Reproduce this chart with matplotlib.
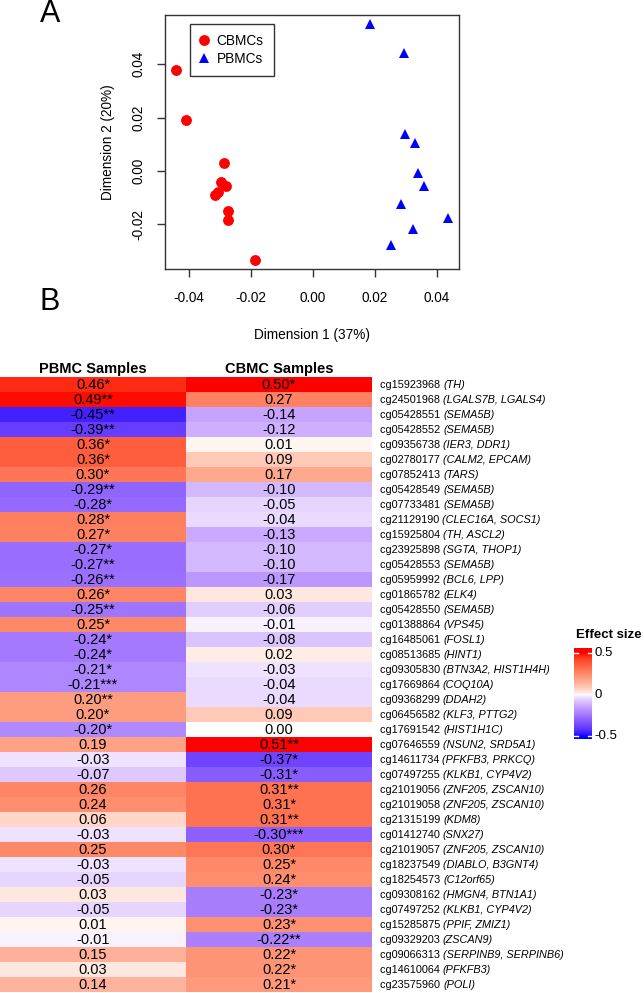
import numpy as np
import matplotlib
matplotlib.use("Agg")
import matplotlib.pyplot as plt
from matplotlib.colors import ListedColormap, FuncNorm

plt.rcParams['font.family'] = ['Liberation Sans', 'DejaVu Sans']

# ---- panel A: MDS coordinates ----
cbmc_x = [-0.0443, -0.0409, -0.0289, -0.0296, -0.0281, -0.0306, -0.0316, -0.0275, -0.0275, -0.0188]
cbmc_y = [0.0380, 0.0190, 0.0031, -0.0041, -0.0055, -0.0077, -0.0091, -0.0150, -0.0183, -0.0332]
pbmc_x = [0.0183, 0.0292, 0.0296, 0.0328, 0.0339, 0.0358, 0.0285, 0.0436, 0.0322, 0.0251]
pbmc_y = [0.0549, 0.0442, 0.0137, 0.0104, -0.0006, -0.0055, -0.0125, -0.0175, -0.0217, -0.0278]

# ---- panel B: effect sizes ----
probes = ['cg15923968', 'cg24501968', 'cg05428551', 'cg05428552', 'cg09356738', 'cg02780177',
          'cg07852413', 'cg05428549', 'cg07733481', 'cg21129190', 'cg15925804', 'cg23925898',
          'cg05428553', 'cg05959992', 'cg01865782', 'cg05428550', 'cg01388864', 'cg16485061',
          'cg08513685', 'cg09305830', 'cg17669864', 'cg09368299', 'cg06456582', 'cg17691542',
          'cg07646559', 'cg14611734', 'cg07497255', 'cg21019056', 'cg21019058', 'cg21315199',
          'cg01412740', 'cg21019057', 'cg18237549', 'cg18254573', 'cg09308162', 'cg07497252',
          'cg15285875', 'cg09329203', 'cg09066313', 'cg14610064', 'cg23575960']
genes = ['TH', 'LGALS7B, LGALS4', 'SEMA5B', 'SEMA5B', 'IER3, DDR1', 'CALM2, EPCAM',
         'TARS', 'SEMA5B', 'SEMA5B', 'CLEC16A, SOCS1', 'TH, ASCL2', 'SGTA, THOP1',
         'SEMA5B', 'BCL6, LPP', 'ELK4', 'SEMA5B', 'VPS45', 'FOSL1',
         'HINT1', 'BTN3A2, HIST1H4H', 'COQ10A', 'DDAH2', 'KLF3, PTTG2', 'HIST1H1C',
         'NSUN2, SRD5A1', 'PFKFB3, PRKCQ', 'KLKB1, CYP4V2', 'ZNF205, ZSCAN10', 'ZNF205, ZSCAN10', 'KDM8',
         'SNX27', 'ZNF205, ZSCAN10', 'DIABLO, B3GNT4', 'C12orf65', 'HMGN4, BTN1A1', 'KLKB1, CYP4V2',
         'PPIF, ZMIZ1', 'ZSCAN9', 'SERPINB9, SERPINB6', 'PFKFB3', 'POLI']
pbmc = [0.46, 0.49, -0.45, -0.39, 0.36, 0.36, 0.30, -0.29, -0.28, 0.28, 0.27, -0.27,
        -0.27, -0.26, 0.26, -0.25, 0.25, -0.24, -0.24, -0.21, -0.21, 0.20, 0.20, -0.20,
        0.19, -0.03, -0.07, 0.26, 0.24, 0.06, -0.03, 0.25, -0.03, -0.05, 0.03, -0.05,
        0.01, -0.01, 0.15, 0.03, 0.14]
pbmc_sig = ['*', '**', '**', '**', '*', '*', '*', '**', '*', '*', '*', '*',
            '**', '**', '*', '**', '*', '*', '*', '*', '***', '**', '*', '*',
            '', '', '', '', '', '', '', '', '', '', '', '',
            '', '', '', '', '']
cbmc = [0.50, 0.27, -0.14, -0.12, 0.01, 0.09, 0.17, -0.10, -0.05, -0.04, -0.13, -0.10,
        -0.10, -0.17, 0.03, -0.06, -0.01, -0.08, 0.02, -0.03, -0.04, -0.04, 0.09, 0.00,
        0.51, -0.37, -0.31, 0.31, 0.31, 0.31, -0.30, 0.30, 0.25, 0.24, -0.23, -0.23,
        0.23, -0.22, 0.22, 0.22, 0.21]
cbmc_sig = ['*', '', '', '', '', '', '', '', '', '', '', '',
            '', '', '', '', '', '', '', '', '', '', '', '',
            '**', '*', '*', '**', '*', '**', '***', '*', '*', '*', '*', '*',
            '*', '**', '*', '*', '*']
columns = ['PBMC Samples', 'CBMC Samples']


def srgb_to_lab(c):
    c = np.asarray(c, float)
    lin = np.where(c <= 0.04045, c / 12.92, ((c + 0.055) / 1.055) ** 2.4)
    m = np.array([[0.4124, 0.3576, 0.1805], [0.2126, 0.7152, 0.0722], [0.0193, 0.1192, 0.9505]])
    xyz = lin @ m.T / np.array([0.95047, 1.0, 1.08883])
    d = 6 / 29
    f = np.where(xyz > d ** 3, np.cbrt(xyz), xyz / (3 * d * d) + 4 / 29)
    return np.stack([116 * f[..., 1] - 16, 500 * (f[..., 0] - f[..., 1]), 200 * (f[..., 1] - f[..., 2])], -1)


def lab_to_srgb(lab):
    L, a, b = lab[..., 0], lab[..., 1], lab[..., 2]
    fy = (L + 16) / 116
    f = np.stack([fy + a / 500, fy, fy - b / 200], -1)
    d = 6 / 29
    xyz = np.where(f > d, f ** 3, 3 * d * d * (f - 4 / 29)) * np.array([0.95047, 1.0, 1.08883])
    mi = np.array([[3.2406, -1.5372, -0.4986], [-0.9689, 1.8758, 0.0415], [0.0557, -0.2040, 1.0570]])
    lin = np.clip(xyz @ mi.T, 0, 1)
    return np.clip(np.where(lin <= 0.0031308, 12.92 * lin, 1.055 * lin ** (1 / 2.4) - 0.055), 0, 1)


# blue - white - red ramp interpolated in LAB space
anchors = srgb_to_lab([[0, 0, 1], [1, 1, 1], [1, 0, 0]])
t = np.linspace(0, 2, 256)
k = np.minimum(t.astype(int), 1)
lab = anchors[k] + (t - k)[:, None] * (anchors[k + 1] - anchors[k])
cmap = ListedColormap(lab_to_srgb(lab))

# slightly stronger saturation near zero, as in the reference rendering
gam = 0.75
norm = FuncNorm((lambda x: np.sign(x) * np.abs(x) ** gam,
                 lambda y: np.sign(y) * np.abs(y) ** (1 / gam)), vmin=-0.5, vmax=0.5)

W, H = 644, 993
fig = plt.figure(figsize=(W / 100, H / 100), dpi=100)

# ---------------- panel A ----------------
ax = fig.add_axes([165 / W, 1 - 269 / H, 294 / W, 254 / H])
ax.plot(cbmc_x, cbmc_y, 'o', color='#ff0000', markersize=6.8, label='CBMCs')
ax.plot(pbmc_x, pbmc_y, '^', color='#0000ff', markersize=6.8, markeredgewidth=0, label='PBMCs')
ax.margins(0.04)
ax.set_xticks([-0.04, -0.02, 0.0, 0.02, 0.04])
ax.set_yticks([-0.02, 0.0, 0.02, 0.04])
ax.set_xticklabels(['-0.04', '-0.02', '0.00', '0.02', '0.04'])
ax.set_yticklabels(['-0.02', '0.00', '0.02', '0.04'])
ax.tick_params(axis='x', direction='out', length=6, width=1, pad=10, labelsize=9.8, color='#333333')
ax.tick_params(axis='y', direction='out', length=6, width=1, pad=8, labelsize=9.8, color='#333333',
               labelrotation=90)
plt.setp(ax.get_yticklabels(), va='center')
for s in ax.spines.values():
    s.set_color('#333333')
    s.set_linewidth(1)
ax.set_xlabel('Dimension 1 (37%)', fontsize=9.8)
ax.set_ylabel('Dimension 2 (20%)', fontsize=9.8)
ax.xaxis.set_label_coords(0.5, -0.232)
ax.yaxis.set_label_coords(-0.17, 0.5)
leg = ax.legend(loc='upper left', bbox_to_anchor=(0.085, 0.965), borderaxespad=0, fontsize=9.8,
                fancybox=False, framealpha=1, edgecolor='#333333', borderpad=0.75,
                handlelength=0.6, handletextpad=0.6, labelspacing=0.3)
leg.get_frame().set_linewidth(1)

fig.text(50 / W, 1 - 14 / H, 'A', fontsize=22, ha='center', va='center')
fig.text(50 / W, 1 - 302 / H, 'B', fontsize=22, ha='center', va='center')

# ---------------- panel B ----------------
n = len(probes)
mat = np.column_stack([pbmc, cbmc])
hx = fig.add_axes([0, 1 - 992 / H, 372 / W, 615 / H])
hx.imshow(mat, cmap=cmap, norm=norm, aspect='auto', interpolation='nearest',
          extent=(0, 2, n, 0))
hx.set_xlim(0, 2)
hx.set_ylim(n, 0)
hx.axis('off')

for j, (vals, sig) in enumerate([(pbmc, pbmc_sig), (cbmc, cbmc_sig)]):
    for i, v in enumerate(vals):
        hx.text(j + 0.5, i + 0.55, f'{v:.2f}{sig[i]}', ha='center', va='center', fontsize=10.5)
    hx.text(j + 0.5, -0.55, columns[j], ha='center', va='center', fontsize=10.5, fontweight='bold')

trans = hx.get_yaxis_transform()
for i, (p, g) in enumerate(zip(probes, genes)):
    t1 = hx.text(380 / 372, i + 0.55, p + ' ', transform=trans, ha='left', va='center', fontsize=7.8)
    hx.annotate(f'({g})', xy=(1, 0), xycoords=t1, ha='left', va='bottom', fontsize=7.8,
                fontstyle='italic')

# colour legend
cx = fig.add_axes([574 / W, 1 - 739 / H, 18 / W, 91 / H])
lo, hi = -0.53, 0.56
grad = np.linspace(lo, hi, 256)[:, None]
cx.imshow(grad, cmap=cmap, norm=norm, origin='lower', aspect='auto',
          extent=(0, 1, lo, hi), interpolation='bilinear')
cx.set_xlim(0, 1)
cx.set_ylim(lo, hi)
cx.axis('off')
for v in [-0.5, 0.5]:
    cx.plot([0, 0.2], [v, v], color='white', lw=1)
    cx.plot([0.8, 1], [v, v], color='white', lw=1)
for v, lab_txt in [(0.5, '0.5'), (0.0, '0'), (-0.5, '-0.5')]:
    cx.text(1.14, v, lab_txt, transform=cx.get_yaxis_transform(), ha='left', va='center', fontsize=9.5)
fig.text(576 / W, 1 - 635 / H, 'Effect size', fontsize=9.5, fontweight='bold', ha='left', va='center')

fig.savefig('out.png', dpi=100)
